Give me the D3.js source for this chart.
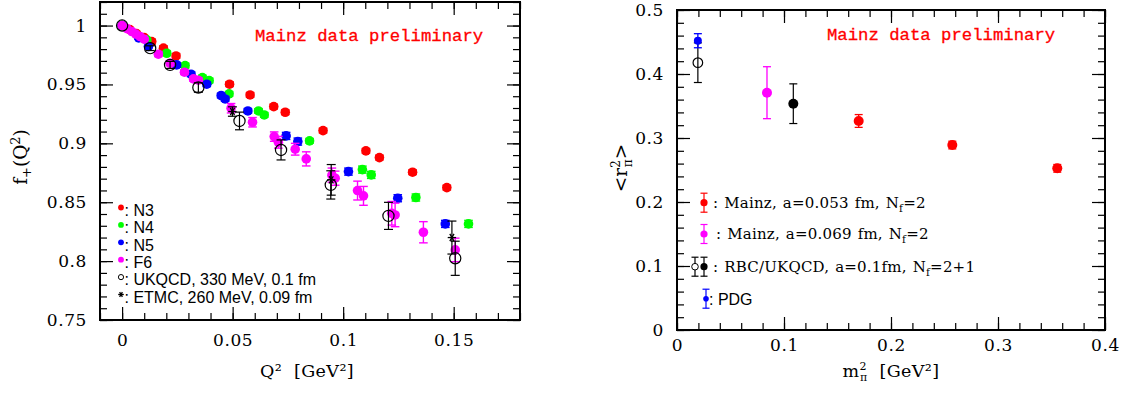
<!DOCTYPE html>
<html><head><meta charset="utf-8">
<script src="https://cdn.jsdelivr.net/npm/d3@7"></script>
<style>
html,body{margin:0;padding:0;background:#fff;}
svg{display:block;}
.tk text{font-family:"DejaVu Serif",serif;font-size:17px;letter-spacing:0.6px;fill:#000;}
</style></head>
<body><svg id="c" width="1128" height="396"></svg>
<script>
// ---------- LEFT PANEL DATA: f+(Q^2) ----------
const n3Q = [0, 0.0035, 0.0065, 0.01, 0.0134, 0.0187, 0.0244, 0.0486, 0.0579, 0.0686, 0.0738, 0.0909, 0.1103, 0.1164, 0.1314, 0.1469];
const n3F = [1, 0.9966, 0.9932, 0.9898, 0.9864, 0.9808, 0.9742, 0.9502, 0.9411, 0.9312, 0.9264, 0.9108, 0.8936, 0.8879, 0.8755, 0.8624];
const n3E = [0.001, 0.001, 0.001, 0.001, 0.002, 0.002, 0.002, 0.002, 0.002, 0.002, 0.002, 0.002, 0.002, 0.002, 0.002, 0.002];

const n4Q = [0, 0.0112, 0.0202, 0.0285, 0.0363, 0.0394, 0.0484, 0.0617, 0.0643, 0.0848, 0.1087, 0.1127, 0.1329, 0.1567];
const n4F = [1, 0.9878, 0.9765, 0.966, 0.9558, 0.9533, 0.942, 0.9275, 0.9241, 0.9021, 0.8777, 0.8732, 0.854, 0.8316];
const n4E = [0.001, 0.001, 0.002, 0.002, 0.002, 0.002, 0.002, 0.002, 0.002, 0.002, 0.003, 0.003, 0.003, 0.003];

const n5Q = [0, 0.0075, 0.0119, 0.0247, 0.0312, 0.0383, 0.0448, 0.0466, 0.0569, 0.0742, 0.0795, 0.1024, 0.1247, 0.1462];
const n5F = [1, 0.9895, 0.9822, 0.9666, 0.9587, 0.9502, 0.9406, 0.9377, 0.9275, 0.9063, 0.9015, 0.876, 0.8534, 0.8316];
const n5E = [0.001, 0.001, 0.001, 0.002, 0.002, 0.002, 0.002, 0.002, 0.002, 0.003, 0.003, 0.003, 0.003, 0.003];

const f6Q = [0, 0.0022, 0.0044, 0.0062, 0.0081, 0.0100, 0.0164, 0.0217, 0.0282, 0.0323, 0.0345, 0.0493, 0.059, 0.0688, 0.0707, 0.0783, 0.0833, 0.0949, 0.0964, 0.1065, 0.1092, 0.122, 0.1235, 0.1363, 0.1507];
const f6F = [1, 0.9974, 0.9949, 0.9928, 0.9907, 0.9884, 0.9757, 0.968, 0.9604, 0.9547, 0.9536, 0.9298, 0.9179, 0.9057, 0.9009, 0.895, 0.8868, 0.873, 0.8704, 0.8599, 0.8554, 0.8406, 0.8392, 0.8245, 0.8095];
const f6E = [0.001, 0.001, 0.001, 0.001, 0.001, 0.001, 0.002, 0.002, 0.002, 0.002, 0.002, 0.004, 0.004, 0.004, 0.005, 0.005, 0.006, 0.006, 0.006, 0.008, 0.008, 0.01, 0.01, 0.009, 0.01];

const ukQ = [0, 0.0127, 0.0217, 0.0345, 0.0531, 0.0719, 0.0944, 0.1205, 0.1507];
const ukF = [1, 0.9808, 0.9666, 0.9474, 0.919, 0.8944, 0.8647, 0.8384, 0.8024];
const ukE = [0, 0.002, 0.003, 0.004, 0.0075, 0.0085, 0.012, 0.0115, 0.0145];

const etQ = [0.0499, 0.0946, 0.1492];
const etF = [0.927, 0.8690, 0.82];
const etE = [0.004, 0.013, 0.014];

const leftXTicks = [0, 0.05, 0.1, 0.15];
const leftXLabels = ["0", "0.05", "0.1", "0.15"];
const leftYTicks = [0.75, 0.8, 0.85, 0.9, 0.95, 1];
const leftYLabels = ["0.75", "0.8", "0.85", "0.9", "0.95", "1"];
const leftLegend = ["N3", "N4", "N5", "F6", "UKQCD, 330 MeV, 0.1 fm", "ETMC, 260 MeV, 0.09 fm"];

// ---------- RIGHT PANEL DATA: <r^2_pi> ----------
const mz053M = [0.1698, 0.2573, 0.3554];
const mz053R = [0.3266, 0.289, 0.2526];
const mz053E = [0.010, 0.006, 0.006];

const mz069M = [0.0841];
const mz069R = [0.3708];
const mz069E = [0.0406];

const rbcFilledM = [0.1087];
const rbcFilledR = [0.3536];
const rbcFilledE = [0.031];
const rbcOpenM = [0.0195];
const rbcOpenR = [0.4177];
const rbcOpenE = [0.031];

const pdgM = [0.0195];
const pdgR = [0.452];
const pdgE = [0.011];

const rightXTicks = [0, 0.1, 0.2, 0.3, 0.4];
const rightXLabels = ["0", "0.1", "0.2", "0.3", "0.4"];
const rightYTicks = [0, 0.1, 0.2, 0.3, 0.4, 0.5];
const rightYLabels = ["0", "0.1", "0.2", "0.3", "0.4", "0.5"];

const RED = "#ff0000", GREEN = "#00ff00", BLUE = "#0000ff", MAG = "#ff00ff";

// ---------- DRAWING ----------
const svg = d3.select("#c");

function frame(x, y, xMinor, yMinor, xTicks, xLabels, yTicks, yLabels, xPad) {
  const [x0, x1] = x.range(), [y0, y1] = y.range();
  const g = svg.append("g").attr("class", "tk");
  const style = s => { s.select(".domain").remove(); s.selectAll("line").attr("stroke", "#000").attr("stroke-width", 1.2); };
  g.append("g").attr("transform", `translate(0,${y0})`).call(d3.axisBottom(x).tickValues(xMinor).tickSize(-7).tickFormat("")).call(style);
  g.append("g").attr("transform", `translate(0,${y1})`).call(d3.axisTop(x).tickValues(xMinor).tickSize(-7).tickFormat("")).call(style);
  g.append("g").attr("transform", `translate(${x0},0)`).call(d3.axisLeft(y).tickValues(yMinor).tickSize(-7).tickFormat("")).call(style);
  g.append("g").attr("transform", `translate(${x1},0)`).call(d3.axisRight(y).tickValues(yMinor).tickSize(-7).tickFormat("")).call(style);
  g.append("g").attr("transform", `translate(0,${y0})`)
    .call(d3.axisBottom(x).tickValues(xTicks).tickSize(-13).tickPadding(xPad).tickFormat((d, i) => xLabels[i])).call(style);
  g.append("g").attr("transform", `translate(0,${y1})`).call(d3.axisTop(x).tickValues(xTicks).tickSize(-13).tickFormat("")).call(style);
  g.append("g").attr("transform", `translate(${x0},0)`)
    .call(d3.axisLeft(y).tickValues(yTicks).tickSize(-13).tickPadding(13).tickFormat((d, i) => yLabels[i])).call(style);
  g.append("g").attr("transform", `translate(${x1},0)`).call(d3.axisRight(y).tickValues(yTicks).tickSize(-13).tickFormat("")).call(style);
  g.selectAll("text").attr("font-family", "DejaVu Serif").attr("font-size", 17);
  svg.append("rect").attr("x", x0).attr("y", y1).attr("width", x1 - x0).attr("height", y0 - y1)
    .attr("fill", "none").attr("stroke", "#000").attr("stroke-width", 2);
}

function errBars(g, x, y, xs, ys, es, color, cap, sw) {
  xs.forEach((q, i) => {
    const e = es[i];
    if (!e) return;
    const cx = x(q), t = y(ys[i] + e), b = y(ys[i] - e);
    g.append("line").attr("x1", cx).attr("x2", cx).attr("y1", t).attr("y2", b).attr("stroke", color).attr("stroke-width", sw);
    g.append("line").attr("x1", cx - cap).attr("x2", cx + cap).attr("y1", t).attr("y2", t).attr("stroke", color).attr("stroke-width", sw);
    g.append("line").attr("x1", cx - cap).attr("x2", cx + cap).attr("y1", b).attr("y2", b).attr("stroke", color).attr("stroke-width", sw);
  });
}
function dots(g, x, y, xs, ys, color, r) {
  g.selectAll(null).data(xs).enter().append("circle")
    .attr("cx", d => x(d)).attr("cy", (d, i) => y(ys[i])).attr("r", r).attr("fill", color);
}
function rings(g, x, y, xs, ys, color, r) {
  g.selectAll(null).data(xs).enter().append("circle")
    .attr("cx", d => x(d)).attr("cy", (d, i) => y(ys[i])).attr("r", r)
    .attr("fill", "none").attr("stroke", color).attr("stroke-width", 1.2);
}
function star(g, cx, cy, s, color) {
  [0, 60, 120].forEach(a => {
    const dx = s * Math.cos(a * Math.PI / 180), dy = s * Math.sin(a * Math.PI / 180);
    g.append("line").attr("x1", cx - dx).attr("x2", cx + dx).attr("y1", cy - dy).attr("y2", cy + dy)
      .attr("stroke", color).attr("stroke-width", 1.3);
  });
}

// ===== Left panel =====
const xL = d3.scaleLinear().domain([-0.01, 0.18]).range([100, 520]);
const yL = d3.scaleLinear().domain([0.75, 1.02]).range([320, 2]);
frame(xL, yL, d3.range(-0.01, 0.1801, 0.01).map(v => +v.toFixed(3)), d3.range(0.75, 1.0201, 0.01).map(v => +v.toFixed(3)),
  leftXTicks, leftXLabels, leftYTicks, leftYLabels, 14);

const gL = svg.append("g");
[[n3Q, n3F, n3E, RED], [n4Q, n4F, n4E, GREEN], [n5Q, n5F, n5E, BLUE], [f6Q, f6F, f6E, MAG]].forEach(([q, f, e, c]) => {
  errBars(gL, xL, yL, q, f, e, c, 4.3, 1.4);
  dots(gL, xL, yL, q, f, c, 4.8);
});
errBars(gL, xL, yL, ukQ, ukF, ukE, "#000", 4.5, 1.2);
rings(gL, xL, yL, ukQ, ukF, "#000", 5.6);
errBars(gL, xL, yL, etQ, etF, etE, "#000", 4.5, 1.2);
etQ.forEach((q, i) => star(gL, xL(q), yL(etF[i]), 4.2, "#000"));

svg.append("text").attr("x", 255).attr("y", 41).attr("font-family", "Liberation Mono").attr("font-size", 17.3)
  .attr("fill", RED).attr("stroke", RED).attr("stroke-width", 0.3).text("Mainz data preliminary");

// Left legend
const legColors = [RED, GREEN, BLUE, MAG];
leftLegend.forEach((lab, i) => {
  const y = 207.5 + i * 17.4;
  if (i < 4) gL.append("circle").attr("cx", 121).attr("cy", y).attr("r", 2.9).attr("fill", legColors[i]);
  else if (i === 4) gL.append("circle").attr("cx", 121).attr("cy", y).attr("r", 2.6).attr("fill", "none").attr("stroke", "#000").attr("stroke-width", 1);
  else star(gL, 121, y, 2.8, "#000");
  gL.append("text").attr("x", 124.5).attr("y", y + 8.3).attr("font-family", "Liberation Sans").attr("font-size", 16)
    .attr("fill", "#000").text(": " + lab);
});

// Left axis titles
svg.append("text").attr("x", 307).attr("y", 377).attr("text-anchor", "middle")
  .attr("font-family", "DejaVu Serif").attr("font-size", 17.5).attr("letter-spacing", 0.4).text("Q²\u00a0\u00a0[GeV²]");
const ylt = svg.append("text").attr("transform", "translate(27,157) rotate(-90)").attr("text-anchor", "middle")
  .attr("font-family", "DejaVu Serif").attr("font-size", 18.5);
ylt.append("tspan").text("f");
ylt.append("tspan").attr("dy", 4).attr("font-size", 13).text("+");
ylt.append("tspan").attr("dy", -4).text("(Q");
ylt.append("tspan").attr("dy", -7.5).attr("font-size", 13).text("2");
ylt.append("tspan").attr("dy", 7.5).text(")");

// ===== Right panel =====
const xR = d3.scaleLinear().domain([0, 0.4]).range([677, 1105]);
const yR = d3.scaleLinear().domain([0, 0.5]).range([330, 10]);
frame(xR, yR, d3.range(0, 0.4001, 0.02).map(v => +v.toFixed(3)), d3.range(0, 0.5001, 0.02).map(v => +v.toFixed(3)),
  rightXTicks, rightXLabels, rightYTicks, rightYLabels, 9);

const gR = svg.append("g");
errBars(gR, xR, yR, rbcOpenM, rbcOpenR, rbcOpenE, "#000", 4, 1.2);
rings(gR, xR, yR, rbcOpenM, rbcOpenR, "#000", 4.8);
errBars(gR, xR, yR, pdgM, pdgR, pdgE, BLUE, 4, 1.3);
dots(gR, xR, yR, pdgM, pdgR, BLUE, 4);
errBars(gR, xR, yR, mz069M, mz069R, mz069E, MAG, 4, 1.3);
dots(gR, xR, yR, mz069M, mz069R, MAG, 5);
errBars(gR, xR, yR, rbcFilledM, rbcFilledR, rbcFilledE, "#000", 4, 1.2);
dots(gR, xR, yR, rbcFilledM, rbcFilledR, "#000", 5);
errBars(gR, xR, yR, mz053M, mz053R, mz053E, RED, 4, 1.3);
dots(gR, xR, yR, mz053M, mz053R, RED, 5);

svg.append("text").attr("x", 827).attr("y", 40).attr("font-family", "Liberation Mono").attr("font-size", 17.3)
  .attr("fill", RED).attr("stroke", RED).attr("stroke-width", 0.3).text("Mainz data preliminary");

// Right legend
function legBar(cx, cy, color) {
  gR.append("line").attr("x1", cx).attr("x2", cx).attr("y1", cy - 9.5).attr("y2", cy + 9.5).attr("stroke", color).attr("stroke-width", 1.2);
  gR.append("line").attr("x1", cx - 3.5).attr("x2", cx + 3.5).attr("y1", cy - 9.5).attr("y2", cy - 9.5).attr("stroke", color).attr("stroke-width", 1.2);
  gR.append("line").attr("x1", cx - 3.5).attr("x2", cx + 3.5).attr("y1", cy + 9.5).attr("y2", cy + 9.5).attr("stroke", color).attr("stroke-width", 1.2);
}
function legText(x, y, main, sub, tail) {
  const t = gR.append("text").attr("x", x).attr("y", y).attr("font-family", "DejaVu Serif").attr("font-size", 15)
    .attr("letter-spacing", 0.2).attr("word-spacing", 1).attr("fill", "#000");
  t.append("tspan").text(main);
  if (sub) {
    t.append("tspan").attr("dy", 4).attr("font-size", 10.5).text(sub);
    t.append("tspan").attr("dy", -4).text(tail);
  }
}
legBar(704, 202.7, RED); gR.append("circle").attr("cx", 704).attr("cy", 202.7).attr("r", 3.6).attr("fill", RED);
legText(713, 207.5, ": Mainz, a=0.053 fm, N", "f", "=2");
legBar(704, 234, MAG); gR.append("circle").attr("cx", 704).attr("cy", 234).attr("r", 3.6).attr("fill", MAG);
legText(716, 239, ": Mainz, a=0.069 fm, N", "f", "=2");
legBar(695, 266.7, "#000"); gR.append("circle").attr("cx", 695).attr("cy", 266.7).attr("r", 3.3).attr("fill", "#fff").attr("stroke", "#000").attr("stroke-width", 1);
legBar(704, 266.7, "#000"); gR.append("circle").attr("cx", 704).attr("cy", 266.7).attr("r", 3.6).attr("fill", "#000");
legText(713, 271.5, ": RBC/UKQCD, a=0.1fm, N", "f", "=2+1");
legBar(706, 298.7, BLUE); gR.append("circle").attr("cx", 706).attr("cy", 298.7).attr("r", 2.8).attr("fill", BLUE);
gR.append("text").attr("x", 709).attr("y", 304.5).attr("font-family", "Liberation Sans").attr("font-size", 16).text(": PDG");

// Right axis titles
const xrt = svg.append("text").attr("x", 891).attr("y", 377).attr("text-anchor", "middle")
  .attr("font-family", "DejaVu Serif").attr("font-size", 17.5).attr("letter-spacing", 0.4);
xrt.append("tspan").text("m");
xrt.append("tspan").attr("dy", -7.5).attr("font-size", 11).text("2");
xrt.append("tspan").attr("dx", -7).attr("dy", 11.5).attr("font-size", 11).text("π");
xrt.append("tspan").attr("dy", -4).text("\u00a0\u00a0[GeV²]");

const yrt = svg.append("text").attr("transform", "translate(627,168) rotate(-90)").attr("text-anchor", "middle")
  .attr("font-family", "DejaVu Serif").attr("font-size", 18.5);
yrt.append("tspan").text("<r");
yrt.append("tspan").attr("dy", -7.5).attr("font-size", 12).text("2");
yrt.append("tspan").attr("dx", -7).attr("dy", 12).attr("font-size", 12).text("π");
yrt.append("tspan").attr("dy", -4.5).text(">");
</script></body></html>
